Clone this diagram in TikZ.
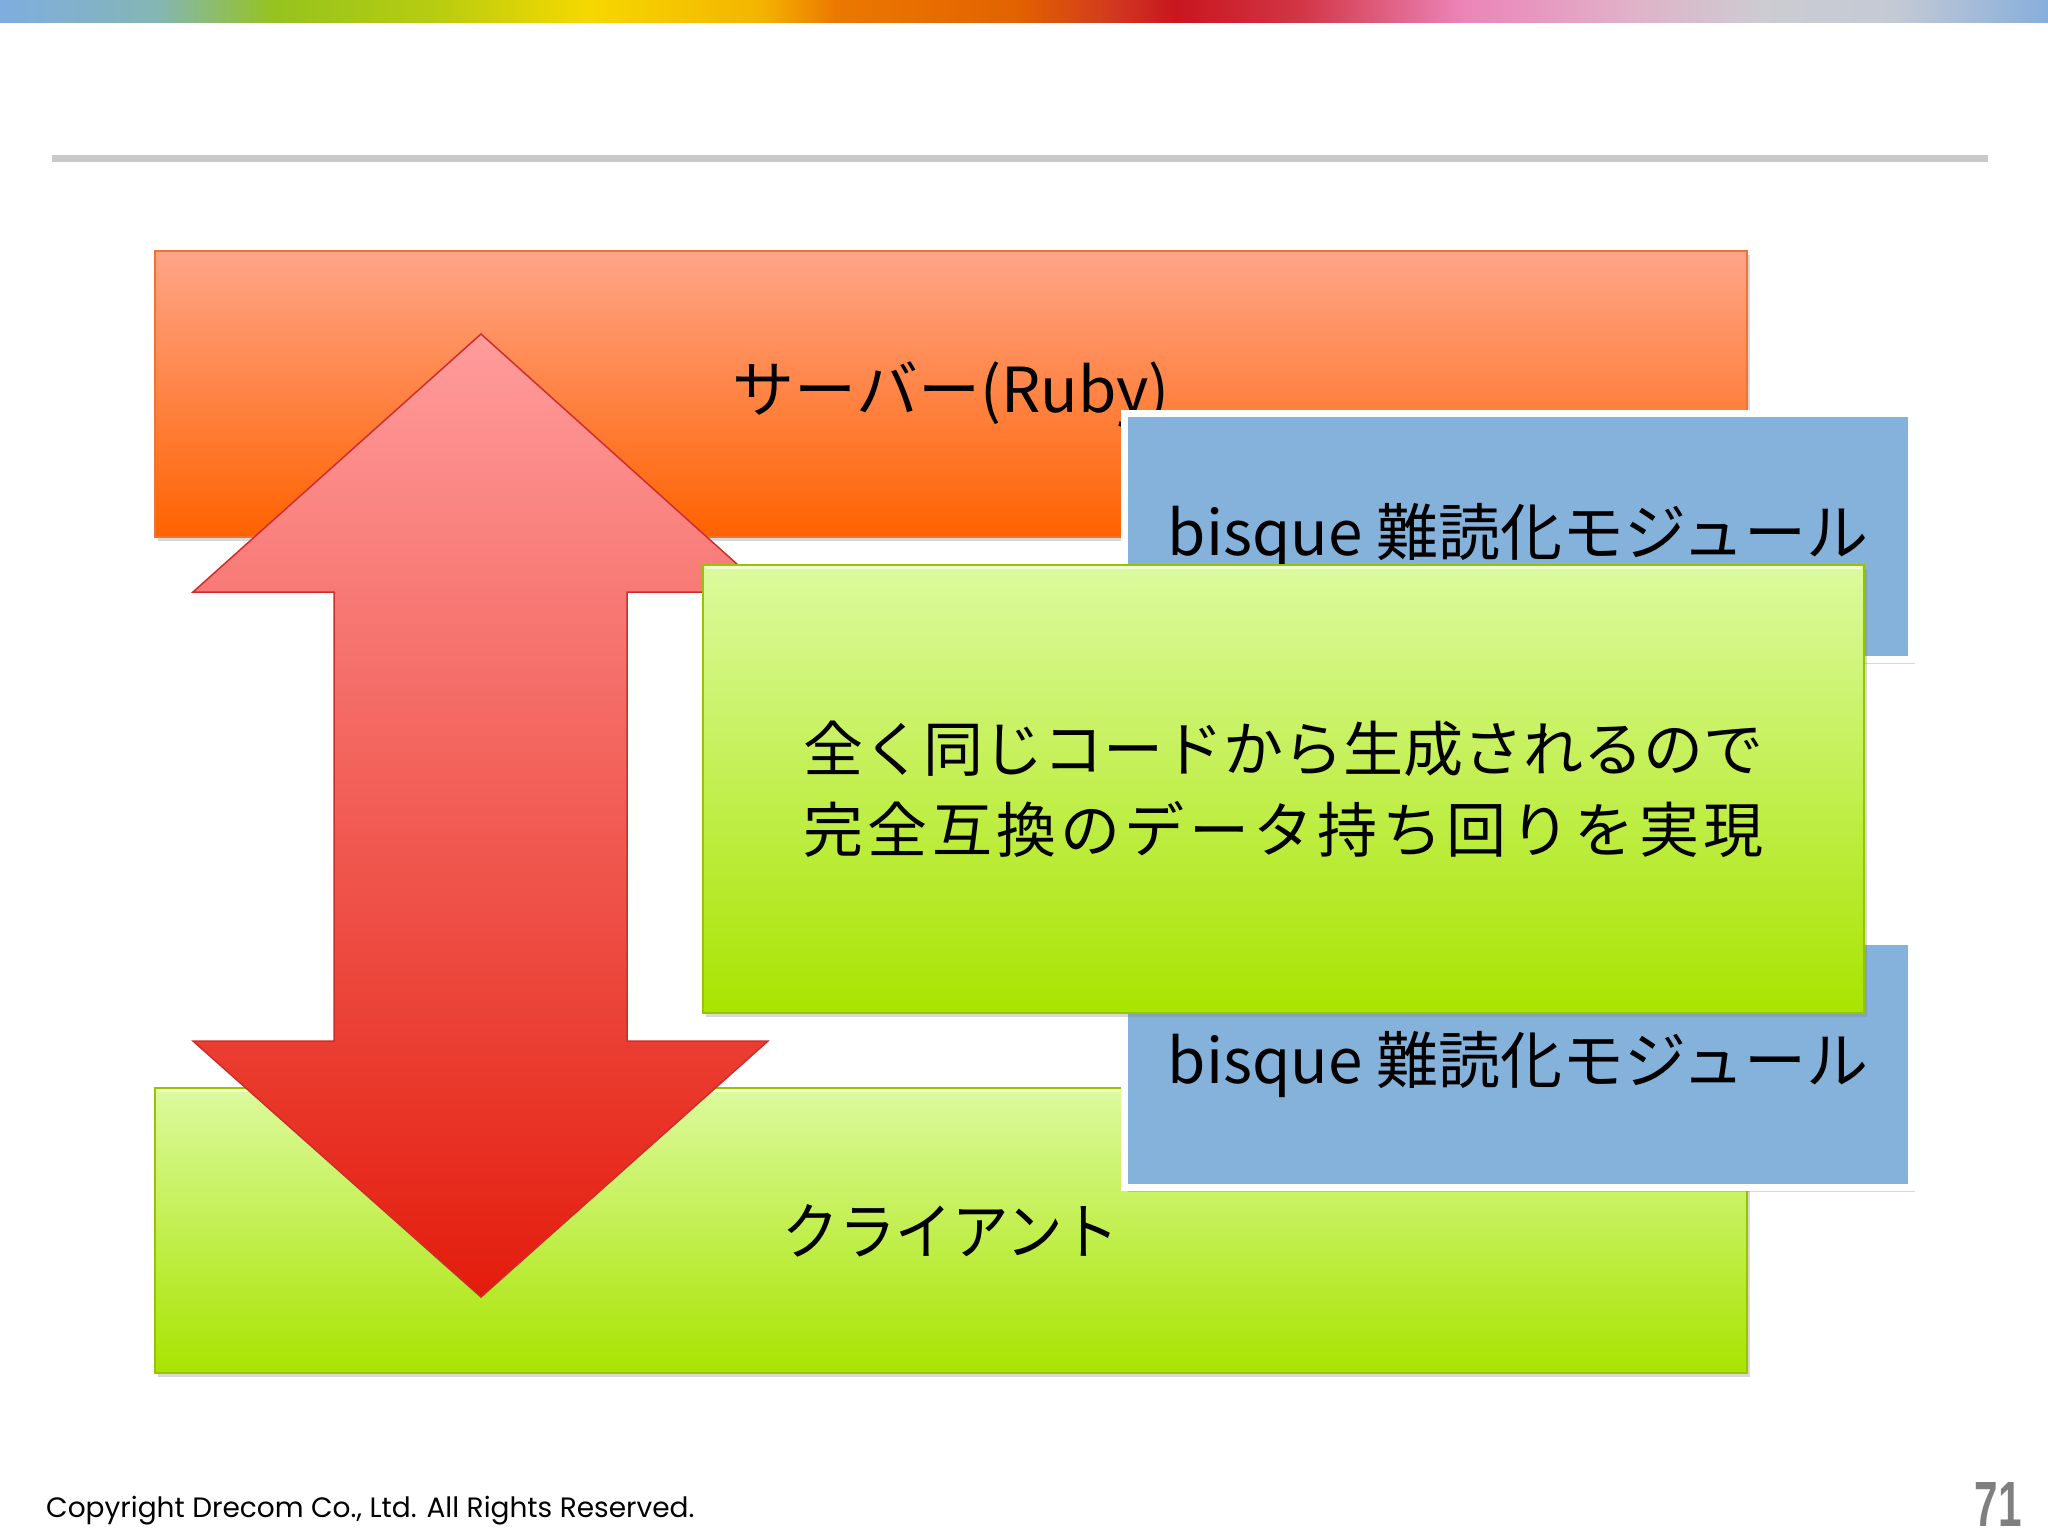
\documentclass[tikz,border=0pt]{standalone}
\usepackage{fontspec}
\newfontfamily\jp{Noto Sans CJK JP}
\newfontfamily\footfont{Poppins}
\newfontfamily\pnumfont{Liberation Sans}
\usetikzlibrary{shadows}
\definecolor{orTop}{HTML}{FFA588}
\definecolor{orBot}{HTML}{FF6200}
\definecolor{orLine}{HTML}{EE7430}
\definecolor{grTop}{HTML}{DCFA9E}
\definecolor{grBot}{HTML}{A8E400}
\definecolor{grLine}{HTML}{96C400}
\definecolor{grHi}{HTML}{F2FFD2}
\definecolor{blFill}{HTML}{84B2DB}
\definecolor{arTop}{HTML}{FF9C9C}
\definecolor{arBot}{HTML}{E31C0C}
\definecolor{arLine}{HTML}{D02C2C}
\definecolor{rule}{HTML}{C9C9C9}
\definecolor{pnum}{HTML}{7F7F7F}
\definecolor{rA}{HTML}{7FADE0}
\definecolor{rB}{HTML}{84B6B4}
\definecolor{rC}{HTML}{96C31E}
\definecolor{rD}{HTML}{B6CC10}
\definecolor{rE}{HTML}{F6D800}
\definecolor{rF}{HTML}{F4B400}
\definecolor{rG}{HTML}{EC7800}
\definecolor{rH}{HTML}{E26200}
\definecolor{rI}{HTML}{D23A20}
\definecolor{rJ}{HTML}{C8161E}
\definecolor{rK}{HTML}{D23646}
\definecolor{rL}{HTML}{EC84B8}
\definecolor{rM}{HTML}{E0B2C8}
\definecolor{rN}{HTML}{CCCCD2}
\definecolor{rO}{HTML}{C4CAD4}
\definecolor{rP}{HTML}{86AEDC}
\tikzset{
  boxshadow/.style={drop shadow={opacity=0.3, shadow xshift=3pt, shadow yshift=-4pt}},
  orangebox/.style={rectangle, draw=orLine, line width=1.5pt, top color=orTop, bottom color=orBot, inner sep=0pt, boxshadow},
  greenbox/.style={rectangle, draw=grLine, line width=1.5pt, top color=grTop, bottom color=grBot, inner sep=0pt, boxshadow},
  bluebox/.style={rectangle, draw=white, line width=7pt, fill=blFill, inner sep=0pt, minimum width=787pt, minimum height=246pt, boxshadow},
  jptext/.style={font=\jp\fontsize{62}{70}\selectfont, text=black},
  hiline/.style={grHi, line width=3pt, line cap=round},
  rbseg/.style 2 args={left color=#1, right color=#2},
}
\newsavebox\lineonebox
\begin{document}
\sbox\lineonebox{\jp\fontsize{60}{81}\selectfont 全く同じコードから生成されるので}
\begin{tikzpicture}[x=1pt,y=-1pt]
\useasboundingbox (0,0) rectangle (2048,1536);
\fill[white] (0,0) rectangle (2048,1536);
% rainbow bar
\shade[rbseg={rA}{rB}] (0,0) rectangle (158,23);
\shade[rbseg={rB}{rC}] (157,0) rectangle (275,23);
\shade[rbseg={rC}{rD}] (274,0) rectangle (432,23);
\shade[rbseg={rD}{rE}] (431,0) rectangle (588,23);
\shade[rbseg={rE}{rF}] (587,0) rectangle (761,23);
\shade[rbseg={rF}{rG}] (760,0) rectangle (836,23);
\shade[rbseg={rG}{rH}] (835,0) rectangle (1019,23);
\shade[rbseg={rH}{rI}] (1018,0) rectangle (1111,23);
\shade[rbseg={rI}{rJ}] (1110,0) rectangle (1176,23);
\shade[rbseg={rJ}{rK}] (1175,0) rectangle (1301,23);
\shade[rbseg={rK}{rL}] (1300,0) rectangle (1463,23);
\shade[rbseg={rL}{rM}] (1462,0) rectangle (1633,23);
\shade[rbseg={rM}{rN}] (1632,0) rectangle (1763,23);
\shade[rbseg={rN}{rO}] (1762,0) rectangle (1894,23);
\shade[rbseg={rO}{rP}] (1893,0) rectangle (2048,23);
% grey rule
\draw[rule, line width=7pt] (52,159) -- (1988,159);
% server box
\node[orangebox, jptext, minimum width=1592pt, minimum height=286pt] (server) at (951,394) {サーバー(Ruby)};
% client box
\node[greenbox, jptext, minimum width=1592pt, minimum height=285pt] (client) at (951,1230.5) {\scalebox{0.91}[1]{クライアント}};
\draw[hiline] ([xshift=4pt,yshift=-3pt]client.north west) -- ([xshift=-4pt,yshift=-3pt]client.north east);
% blue modules
\node[bluebox, jptext] (modtop) at (1518,536.5) {bisque 難読化モジュール};
\node[bluebox, jptext] (modbot) at (1518,1064.5) {bisque 難読化モジュール};
% double arrow
\draw[arLine, line width=1.5pt, top color=arTop, bottom color=arBot]
  (481,334) -- (768,592) -- (627,592) -- (627,1041) -- (768,1041) -- (481,1297)
  -- (193,1041) -- (334,1041) -- (334,592) -- (193,592) -- cycle;
% middle box
\node[greenbox, font=\jp\fontsize{60}{81}\selectfont, align=center, minimum width=1161pt, minimum height=448pt] (mid) at (1283.5,789) {\usebox\lineonebox\\\makebox[\wd\lineonebox][s]{完\hfil 全\hfil 互\hfil 換\hfil の\hfil デ\hfil ー\hfil タ\hfil 持\hfil ち\hfil 回\hfil り\hfil を\hfil 実\hfil 現}};
\draw[hiline] ([xshift=4pt,yshift=-3pt]mid.north west) -- ([xshift=-4pt,yshift=-3pt]mid.north east);
% footer
\node[anchor=base west, inner sep=0pt, font=\footfont\fontsize{28}{32}\selectfont] (copy) at (46,1517) {Copyright Drecom Co., Ltd. All Rights Reserved.};
\node[anchor=base east, inner sep=0pt, text=pnum] (page) at (2022,1526) {\resizebox{47pt}{44pt}{\pnumfont\bfseries 71}};
\end{tikzpicture}
\end{document}
